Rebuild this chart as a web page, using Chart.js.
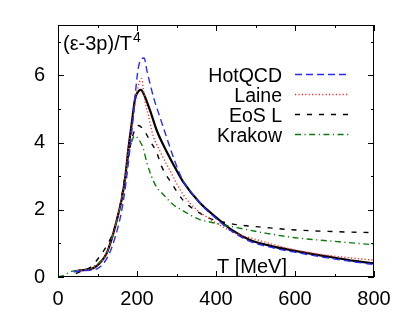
<!DOCTYPE html>
<html>
<head>
<meta charset="utf-8">
<script src="https://cdn.jsdelivr.net/npm/chart.js@4/dist/chart.umd.min.js"></script>
<style>
    html, body { margin: 0; padding: 0; background: #fff; }
    #wrap { width: 409px; height: 318px; }
</style>
</head>
<body>
<div id="wrap"><canvas id="chart"></canvas></div>
<script>
// 축 눈금
const xMajor = [0, 200, 400, 600, 800];
const xMinor = [100, 300, 500, 700];
const yMajor = [0, 2, 4, 6];
const yMinor = [1, 3, 5, 7];

// [T (MeV), (e-3p)/T^4]
const hotQCD = [[40,0.15],[60,0.19],[80,0.2],[100,0.25],[115,0.4],[130,0.7],[145,1.2],[160,1.9],[172,2.8],[182,3.8],[190,4.7],[197,5.6],[203,6.2],[210,6.48],[218,6.52],[225,6.15],[233,5.75],[243,5.3],[254,4.9],[271,4.3],[294,3.5],[317,2.85],[340,2.48],[359,2.2],[380,1.95],[402,1.72],[440,1.36],[486,1.06],[540,0.88],[613,0.71],[697,0.54],[750,0.45],[800,0.37]];
const laine = [[50,0.2],[70,0.21],[90,0.27],[106,0.42],[123,0.7],[140,1.3],[153,1.89],[161,2.3],[170,2.95],[178,3.8],[185,4.35],[193,5.0],[200,5.5],[206,5.8],[212,5.9],[216,5.6],[220,5.25],[229,4.8],[241,4.2],[258,3.75],[284,3.15],[317,2.45],[351,2.0],[380,1.76],[410,1.54],[450,1.3],[500,1.12],[587,0.84],[650,0.7],[700,0.62],[800,0.5]];
const eosL = [[45,0.1],[65,0.2],[81,0.28],[95,0.45],[106,0.62],[123,0.92],[140,1.35],[155,2.0],[167,2.8],[178,3.6],[188,4.15],[196,4.42],[203,4.51],[212,4.45],[220,4.33],[233,4.05],[250,3.7],[262,3.3],[288,2.78],[317,2.28],[347,1.99],[385,1.74],[420,1.63],[452,1.56],[528,1.47],[587,1.41],[700,1.35],[800,1.32]];
const krakow = [[0,0],[15,0.05],[30,0.15],[56,0.21],[81,0.26],[106,0.45],[123,0.7],[140,1.3],[153,1.89],[161,2.3],[170,2.95],[178,3.6],[187,4.05],[195,4.2],[203,4.12],[210,3.98],[216,3.82],[225,3.4],[246,2.75],[267,2.45],[292,2.15],[317,1.97],[342,1.8],[359,1.71],[400,1.6],[444,1.49],[528,1.3],[600,1.17],[700,1.06],[800,0.96]];
const s95p = [[50,0.19],[70,0.21],[90,0.27],[106,0.42],[123,0.7],[140,1.3],[153,1.89],[161,2.3],[170,2.95],[178,3.8],[187,4.6],[195,5.3],[203,5.52],[210,5.57],[218,5.42],[233,4.96],[250,4.36],[267,3.92],[292,3.35],[317,2.83],[359,2.21],[402,1.76],[440,1.4],[486,1.1],[540,0.92],[613,0.75],[697,0.58],[750,0.48],[800,0.41]];

const FONT = 'Liberation Sans, Arial, Helvetica, sans-serif';

const toPts = arr => arr.map(p => ({ x: p[0], y: p[1] }));

const datasets = [
    { label: 'HotQCD', data: toPts(hotQCD), borderColor: '#2a2aff', borderWidth: 1.4, borderDash: [7, 4] },
    { label: 'Laine', data: toPts(laine), borderColor: '#ff2a2a', borderWidth: 1.4, borderDash: [1.2, 2.2] },
    { label: 'EoS L', data: toPts(eosL), borderColor: '#000000', borderWidth: 1.4, borderDash: [5, 7] },
    { label: 'Krakow', data: toPts(krakow), borderColor: '#0a7a0a', borderWidth: 1.4, borderDash: [6, 3.5, 1.2, 3.5] },
    { label: '', data: toPts(s95p), borderColor: '#000000', borderWidth: 2.2, borderDash: [] }
].map(d => Object.assign(d, { pointRadius: 0, fill: false, cubicInterpolationMode: 'monotone' }));

// 테두리, 안쪽 눈금, 범례, 라벨
const decor = {
    id: 'decor',
    afterDraw(chart) {
        const { ctx, chartArea: a, scales: { x, y } } = chart;
        ctx.save();
        ctx.strokeStyle = '#000';
        ctx.lineWidth = 1;
        ctx.setLineDash([]);
        ctx.strokeRect(a.left + 0.5, a.top + 0.5, a.right - a.left - 1, a.bottom - a.top - 1);

        const tick = (vals, len) => {
            ctx.beginPath();
            vals.forEach(v => {
                const px = Math.round(x.getPixelForValue(v)) + 0.5;
                ctx.moveTo(px, a.bottom); ctx.lineTo(px, a.bottom - len);
                ctx.moveTo(px, a.top); ctx.lineTo(px, a.top + len);
            });
            ctx.stroke();
        };
        const ytick = (vals, len) => {
            ctx.beginPath();
            vals.forEach(v => {
                const py = Math.round(y.getPixelForValue(v)) + 0.5;
                ctx.moveTo(a.left, py); ctx.lineTo(a.left + len, py);
                ctx.moveTo(a.right, py); ctx.lineTo(a.right - len, py);
            });
            ctx.stroke();
        };
        tick(xMajor, 6); tick(xMinor, 3);
        ytick(yMajor, 6); ytick(yMinor, 3);

        // y 라벨
        ctx.fillStyle = '#000';
        ctx.textBaseline = 'alphabetic';
        ctx.textAlign = 'left';
        ctx.font = `20px ${FONT}`;
        const lbl = '(\u03b5-3p)/T';
        ctx.fillText(lbl, 63, 50);
        const w = ctx.measureText(lbl).width;
        ctx.font = `14px ${FONT}`;
        ctx.fillText('4', 63 + w + 1, 42);

        // x 라벨
        ctx.font = `20px ${FONT}`;
        ctx.fillText('T [MeV]', 217, 273);

        // 범례
        chart.data.datasets.slice(0, 4).forEach((d, i) => {
            const base = 82 + i * 20;
            ctx.font = `19.5px ${FONT}`;
            ctx.textAlign = 'right';
            ctx.fillStyle = '#000';
            ctx.fillText(d.label, 282, base);
            ctx.beginPath();
            ctx.strokeStyle = d.borderColor;
            ctx.lineWidth = d.borderWidth;
            ctx.setLineDash(d.borderDash);
            ctx.moveTo(295, base - 7.5);
            ctx.lineTo(349, base - 7.5);
            ctx.stroke();
        });
        ctx.restore();
    }
};

new Chart(document.getElementById('chart'), {
    type: 'line',
    data: { datasets },
    options: {
        responsive: true,
        maintainAspectRatio: false,
        animation: false,
        layout: { padding: { left: 0, right: 35, top: 24, bottom: 0 } },
        plugins: { legend: { display: false }, tooltip: { enabled: false } },
        scales: {
            x: {
                type: 'linear', min: 0, max: 800,
                afterBuildTicks: s => { s.ticks = xMajor.map(v => ({ value: v })); },
                afterFit: s => { s.height = 41; },
                grid: { display: false, drawTicks: false },
                border: { display: false },
                ticks: { color: '#000', font: { family: FONT, size: 20 }, padding: 10, maxRotation: 0 }
            },
            y: {
                type: 'linear', min: 0, max: 7.5,
                afterBuildTicks: s => { s.ticks = yMajor.map(v => ({ value: v })); },
                afterFit: s => { s.width = 58; },
                grid: { display: false, drawTicks: false },
                border: { display: false },
                ticks: { color: '#000', font: { family: FONT, size: 20 }, padding: 13 }
            }
        }
    },
    plugins: [decor]
});
</script>
</body>
</html>
